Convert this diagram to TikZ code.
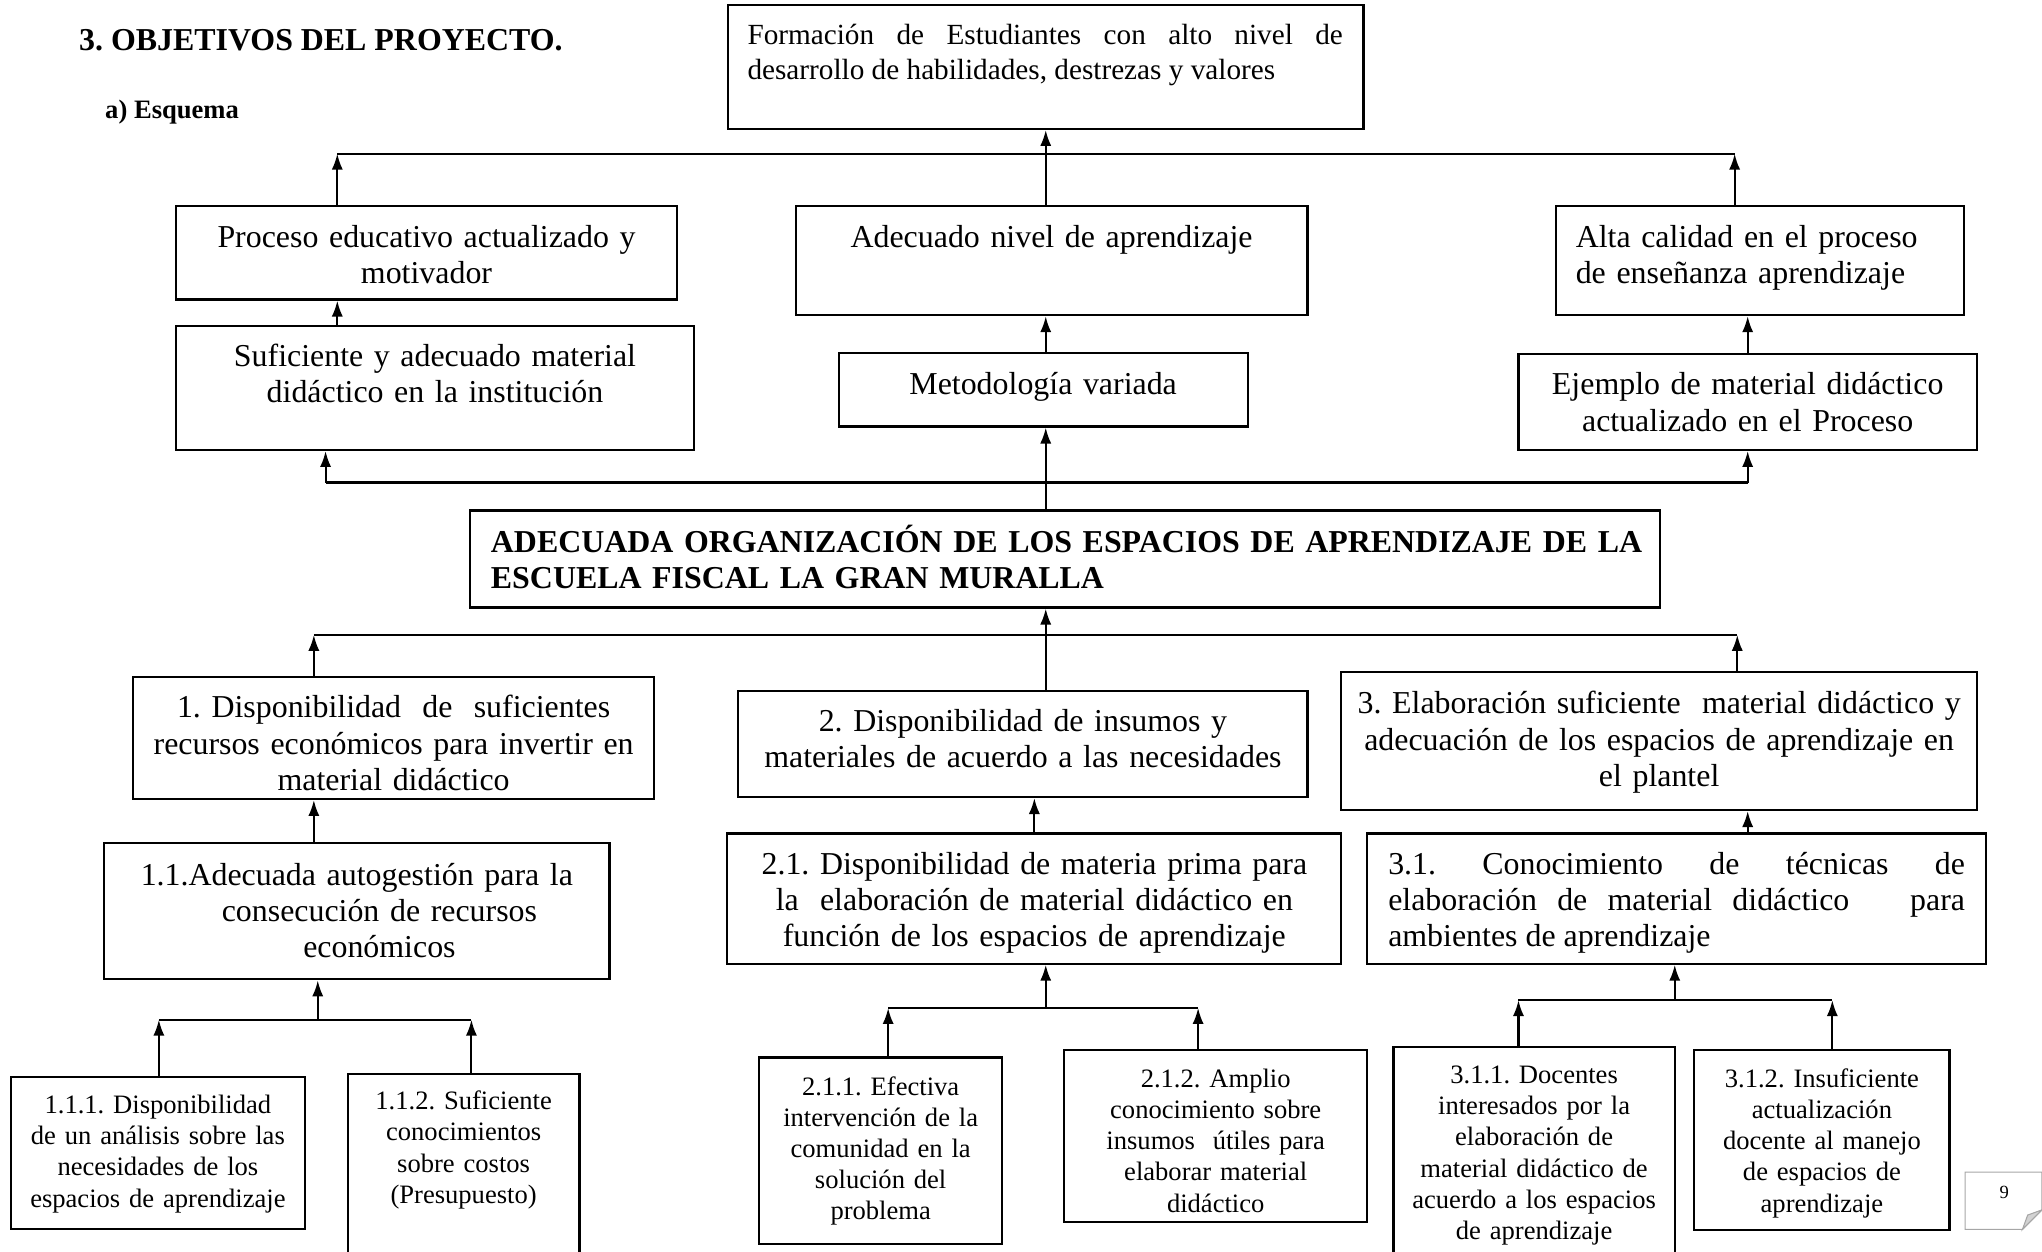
\documentclass[tikz,border=0pt]{standalone}
\usepackage{fontspec}
\setmainfont{Liberation Serif}
\frenchspacing
\usepackage{tikz}
\usetikzlibrary{
    calc,
    arrows.meta,
    fit,
    positioning % not much used, boxes sit at coordinates
}
\tikzset{
    box/.style={draw, inner sep=0pt},
    txt/.style={anchor=base, align=center, inner sep=0pt, text width=#1,
        font=\fontsize{12}{13.7}\selectfont},
    txtl/.style={txt=#1, anchor=base west, align=left},
    txtj/.style={txt=#1, anchor=base west, align=justify},
    chico/.style={txt=#1, font=\fontsize{10}{11.7}\selectfont},
    >={Latex[length=6pt,width=4.2pt]}
}

\begin{document}
\begin{tikzpicture}[x=0.49pt, y=-0.49pt, line width=0.8pt]
        \useasboundingbox (0,0) rectangle (1568,961);
        \clip (0,0) rectangle (1568,961);

        \node[anchor=base west, inner sep=0pt, font=\bfseries\fontsize{12}{14}\selectfont] (titulo) at (60,38.5) {3. OBJETIVOS DEL PROYECTO.};
        \node[anchor=base west, inner sep=0pt, font=\bfseries\fontsize{10}{12}\selectfont] (esquema) at (80,91) {a) Esquema};

        \node[box, fit={(559,4) (1047,99)}] (form) {};
        \node[txtj=224pt, font=\fontsize{11}{13.2}\selectfont] (formt) at ($(form.north west)+(15,31)$)
            {Formación de Estudiantes con alto nivel de\linebreak desarrollo de habilidades, destrezas y valores};

        \node[box, fit={(135,158) (520,230)}] (proc) {};
        \node[txt=183pt] (proct) at ($(proc.north)+(0,32.5)$) {Proceso educativo actualizado y\\motivador};
        \node[box, fit={(611,158) (1004,242)}] (nivel) {};
        \node[txt=187pt] (nivelt) at ($(nivel.north)+(0,33)$) {Adecuado nivel de aprendizaje};
        \node[box, fit={(1195,158) (1508,242)}] (calid) {};
        \node[txtl=145pt] (calidt) at ($(calid.north west)+(15,32.5)$) {Alta calidad en el proceso\\de enseñanza aprendizaje};

        \node[box, fit={(135,250) (533,345.5)}] (mat) {};
        \node[txt=190pt] (matt) at ($(mat.north)+(0,32)$) {Suficiente y adecuado material\\didáctico en la institución};
        \node[box, fit={(644,271) (958,327.5)}] (met) {};
        \node[txt=148pt] (mett) at ($(met.north)+(0,33)$) {Metodología variada};
        \node[box, fit={(1166,272) (1518,345.5)}] (ejem) {};
        \node[txt=167pt] (ejemt) at ($(ejem.north)+(0,32)$) {Ejemplo de material didáctico\\actualizado en el Proceso};

        \node[box, fit={(361,392) (1274.5,466.5)}] (org) {};
        \node[txtl=437pt, font=\bfseries\fontsize{12}{13.7}\selectfont] (orgt) at ($(org.north west)+(16,33)$)
            {ADECUADA ORGANIZACIÓN DE LOS ESPACIOS DE APRENDIZAJE DE LA\\ESCUELA FISCAL LA GRAN MURALLA};

        \node[box, fit={(102,520) (502.5,613.5)}] (d1) {};
        \node[txt=191pt] (d1t) at ($(d1.north)+(0,32)$) {1. Disponibilidad~ de~ suficientes\\recursos económicos para invertir en\\material didáctico};
        \node[box, fit={(567,530.5) (1004,612)}] (d2) {};
        \node[txt=209pt] (d2t) at ($(d2.north)+(0,32)$) {2. Disponibilidad de insumos y\\materiales de acuerdo a las necesidades};
        \node[box, fit={(1030,516) (1518,622)}] (d3) {};
        \node[txt=234pt] (d3t) at ($(d3.north)+(0,33)$) {3. Elaboración suficiente~ material didáctico y\\adecuación de los espacios de aprendizaje en\\el plantel};

        \node[box, fit={(80,647.5) (468,752)}] (a11) {};
        \node[txt=185pt] (a11t) at ($(a11.north)+(0,33)$) {1.1.Adecuada autogestión para la\\\hspace*{17pt}consecución de recursos\\\hspace*{17pt}económicos};
        \node[box, fit={(558.5,640) (1030,740)}] (a21) {};
        \node[txt=226pt] (a21t) at ($(a21.north)+(0,32)$) {2.1. Disponibilidad de materia prima para\\la~ elaboración de material didáctico en\\función de los espacios de aprendizaje};
        \node[box, fit={(1050,640) (1525,740)}] (a31) {};
        \node[txtj=217pt] (a31t) at ($(a31.north west)+(16,32)$)
            {3.1. Conocimiento de técnicas de\linebreak elaboración de material didáctico~~ para\linebreak ambientes de aprendizaje};

        \node[box, fit={(8.5,827) (234,944)}] (b111) {};
        \node[chico=105pt] (b111t) at ($(b111.north)+(0,29)$) {1.1.1. Disponibilidad\\de un análisis sobre las\\necesidades de los\\espacios de aprendizaje};
        \node[box, fit={(267,825) (445,1005)}] (b112) {};
        \node[chico=82pt] (b112t) at ($(b112.north)+(0,28)$) {1.1.2. Suficiente\\conocimientos\\sobre costos\\(Presupuesto)};
        \node[box, fit={(583,812) (769.5,955)}] (b211) {};
        \node[chico=86pt] (b211t) at ($(b211.north)+(0,30)$) {2.1.1. Efectiva\\intervención de la\\comunidad en la\\solución del\\problema};
        \node[box, fit={(817,806) (1050,938)}] (b212) {};
        \node[chico=109pt] (b212t) at ($(b212.north)+(0,30)$) {2.1.2. Amplio\\conocimiento sobre\\insumos~ útiles para\\elaborar material\\didáctico};
        \node[box, fit={(1070,804) (1286,1005)}] (b311) {};
        \node[chico=101pt] (b311t) at ($(b311.north)+(0,29)$) {3.1.1. Docentes\\interesados por la\\elaboración de\\material didáctico de\\acuerdo a los espacios\\de aprendizaje};
        \node[box, fit={(1301,806) (1497,944.5)}] (b312) {};
        \node[chico=91pt] (b312t) at ($(b312.north)+(0,30)$) {3.1.2. Insuficiente\\actualización\\docente al manejo\\de espacios de\\aprendizaje};

        \coordinate (tl) at (259,118);
        \coordinate (tr) at (1332,118);
        \draw (tl) to (tr);
        \draw[->] (tl |- proc.north) to (tl);
        \draw[->] (tr |- calid.north) to (tr);
        \draw[->] (form.south |- nivel.north) to (form.south);

        \draw[->] (tl |- mat.north) to (tl |- proc.south);
        \draw[->] (form.south |- met.north) to (form.south |- nivel.south);
        \draw[->] (ejem.north) to (ejem.north |- calid.south);

        \coordinate (ml) at (250,370.5);
        \coordinate (mr) at (1342,370.5);
        \draw (ml) to (mr);
        \draw[->] (ml) to (ml |- mat.south);
        \draw[->] (mr) to (mr |- ejem.south);
        \draw[->] (form.south |- org.north) to (form.south |- met.south);

        \coordinate (bl) at (241,487.5);
        \coordinate (br) at (1334,487.5);
        \draw (bl) to (br);
        \draw[->] (bl |- d1.north) to (bl);
        \draw[->] (br |- d3.north) to (br);
        \draw[->] (form.south |- d2.north) to (form.south |- org.south);

        \draw[->] (bl |- a11.north) to (bl |- d1.south);
        \draw[->] (a21.north) to (a21.north |- d2.south);
        \draw[->] (ejem.south |- a31.north) to (ejem.south |- d3.south);

        \coordinate (j1l) at (122,783);
        \coordinate (j1r) at (362,783);
        \coordinate (j1m) at (244,783);
        \draw (j1l) to (j1r);
        \draw[->] (j1m) to (j1m |- a11.south);
        \draw[->] (j1l |- b111.north) to (j1l);
        \draw[->] (j1r |- b112.north) to (j1r);

        \coordinate (j2l) at (682,774);
        \coordinate (j2r) at (920,774);
        \draw (j2l) to (j2r);
        \draw[->] (form.south |- j2l) to (form.south |- a21.south);
        \draw[->] (j2l |- b211.north) to (j2l);
        \draw[->] (j2r |- b212.north) to (j2r);

        \coordinate (j3l) at (1166,768);
        \coordinate (j3r) at (1407,768);
        \coordinate (j3m) at (1286,768);
        \draw (j3l) to (j3r);
        \draw[->] (j3m) to (j3m |- a31.south);
        \draw[->] (j3l |- b311.north) to (j3l);
        \draw[->] (j3r |- b312.north) to (j3r);

        \draw[gray!70, line width=0.4pt] (1509,900) -- (1568,900) -- (1568,929) -- (1553,944) -- (1509,944) -- cycle;
        \filldraw[gray!70, fill=gray!35, line width=0.4pt] (1553,944) -- (1557,933) -- (1568,929) -- cycle;
        \node[font=\fontsize{7}{8}\selectfont, inner sep=0pt] (pagina) at (1539,916) {9};
    \end{tikzpicture}
\end{document}
